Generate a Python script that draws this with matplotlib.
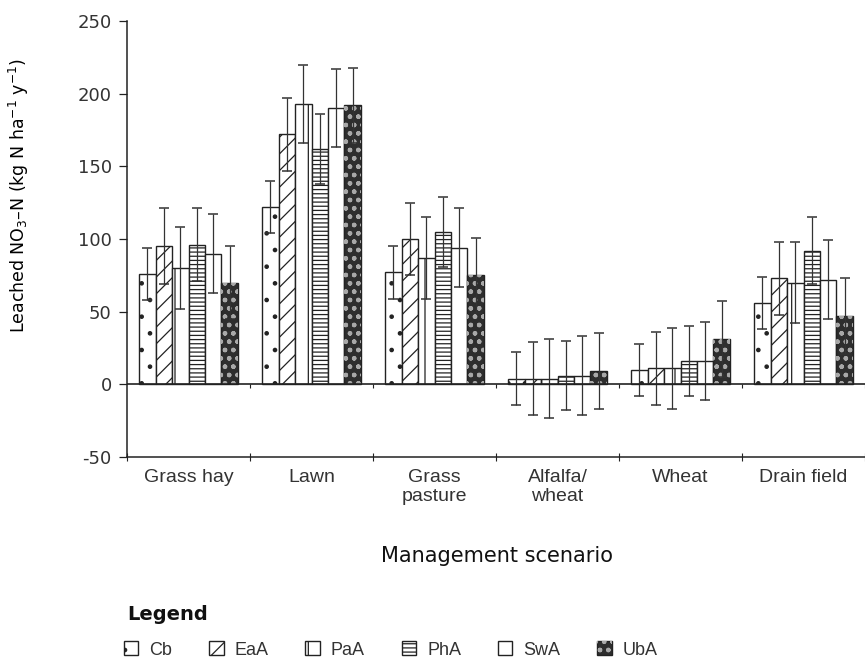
import numpy as np
import matplotlib
matplotlib.use("Agg")
import matplotlib.pyplot as plt
from matplotlib.legend_handler import HandlerTuple

# データ (値は図から読み取り)
scenarios = ["Grass hay", "Lawn", "Grass\npasture", "Alfalfa/\nwheat", "Wheat", "Drain field"]
series = ["Cb", "EaA", "PaA", "PhA", "SwA", "UbA"]

cb_vals = [76, 122, 77, 4, 10, 56]
eaa_vals = [95, 172, 100, 4, 11, 73]
paa_vals = [80, 193, 87, 4, 11, 70]
pha_vals = [96, 162, 105, 6, 16, 92]
swa_vals = [90, 190, 94, 6, 16, 72]
uba_vals = [70, 192, 75, 9, 31, 47]

cb_err = [18, 18, 18, 18, 18, 18]
eaa_err = [26, 25, 25, 25, 25, 25]
paa_err = [28, 27, 28, 27, 28, 28]
pha_err = [25, 24, 24, 24, 24, 23]
swa_err = [27, 27, 27, 27, 27, 27]
uba_err = [25, 26, 26, 26, 26, 26]

y_ticks = [-50, 0, 50, 100, 150, 200, 250]

values = [cb_vals, eaa_vals, paa_vals, pha_vals, swa_vals, uba_vals]
errors = [cb_err, eaa_err, paa_err, pha_err, swa_err, uba_err]
hatches = [".", "//", "|", "----", "", ""]

plt.rcParams["hatch.linewidth"] = 0.9
narrow = ["Liberation Sans", "DejaVu Sans"]
ink = "#222222"

fig = plt.figure(figsize=(8.65, 6.61), dpi=100, facecolor="w")
ax = fig.add_axes([127 / 865, 1 - 457 / 661, 738 / 865, 436 / 661])

x = np.arange(len(scenarios))
w = 0.134
handles = []
for j, name in enumerate(series):
    pos = x + (j - 2.5) * w
    if name == "UbA":
        # 濃い地に明るい点 (砂目模様)
        b1 = ax.bar(pos, values[j], w, color="#2e2e2e", edgecolor=ink, linewidth=1.0, zorder=2)
        b2 = ax.bar(pos, values[j], w, color="none", edgecolor="#a8a8a8", hatch="oo..",
                    linewidth=0, zorder=2.1)
        handles.append((b1[0], b2[0]))
    else:
        b = ax.bar(pos, values[j], w, color="white", edgecolor=ink, hatch=hatches[j],
                   linewidth=1.0, zorder=2)
        handles.append(b[0])
    ax.errorbar(pos, values[j], yerr=errors[j], fmt="none", ecolor="#333333",
                elinewidth=0.9, capsize=3.5, capthick=1.1, zorder=3)

# ゼロ線と区切りの目盛り
ax.axhline(0, color=ink, lw=1.2, zorder=4)
bounds = np.arange(len(scenarios) + 1) - 0.5
ax.vlines(bounds[1:], -2.5, 0, color=ink, lw=0.8, zorder=4)

ax.set_xlim(-0.5, 5.476)
ax.set_ylim(-50, 250)
ax.set_yticks(y_ticks)
ax.set_yticklabels([str(t) for t in y_ticks], fontsize=13, color="#333333")
ax.set_xticks(x)
ax.set_xticklabels(scenarios, family=narrow, fontsize=14, color="#333333", linespacing=1.1)
ax.set_xticks(bounds, minor=True)
ax.tick_params(axis="x", which="major", length=0, pad=9)
ax.tick_params(axis="x", which="minor", length=6, direction="inout", width=0.8, color=ink)
ax.tick_params(axis="y", length=6, width=0.9, color=ink, pad=5)

for s in ["top", "right"]:
    ax.spines[s].set_visible(False)
ax.spines["left"].set_color(ink)
ax.spines["bottom"].set_color(ink)
ax.spines["left"].set_linewidth(1.1)
ax.spines["bottom"].set_linewidth(1.1)

ax.set_ylabel("Leached NO$_3$–N (kg N ha$^{-1}$ y$^{-1}$)", fontsize=12.5, color="#000000")
ax.yaxis.set_label_coords(-0.13, 0.60)

fig.text(497 / 865, 1 - 556 / 661, "Management scenario", ha="center", va="center",
         fontsize=15, color="#111111")
fig.text(127 / 865, 1 - 614 / 661, "Legend", ha="left", va="center",
         fontsize=14, color="#111111", fontweight="semibold")

leg = fig.legend(handles, series, ncol=6, loc="center left",
                 bbox_to_anchor=(124 / 865, 1 - 650 / 661), frameon=False,
                 handlelength=0.8, handleheight=0.8, handletextpad=0.6,
                 columnspacing=2.05, borderaxespad=0, borderpad=0,
                 prop={"family": narrow, "size": 13},
                 handler_map={tuple: HandlerTuple(ndivide=1, pad=0)})
for t in leg.get_texts():
    t.set_color("#333333")

fig.savefig("out.png", dpi=100)
